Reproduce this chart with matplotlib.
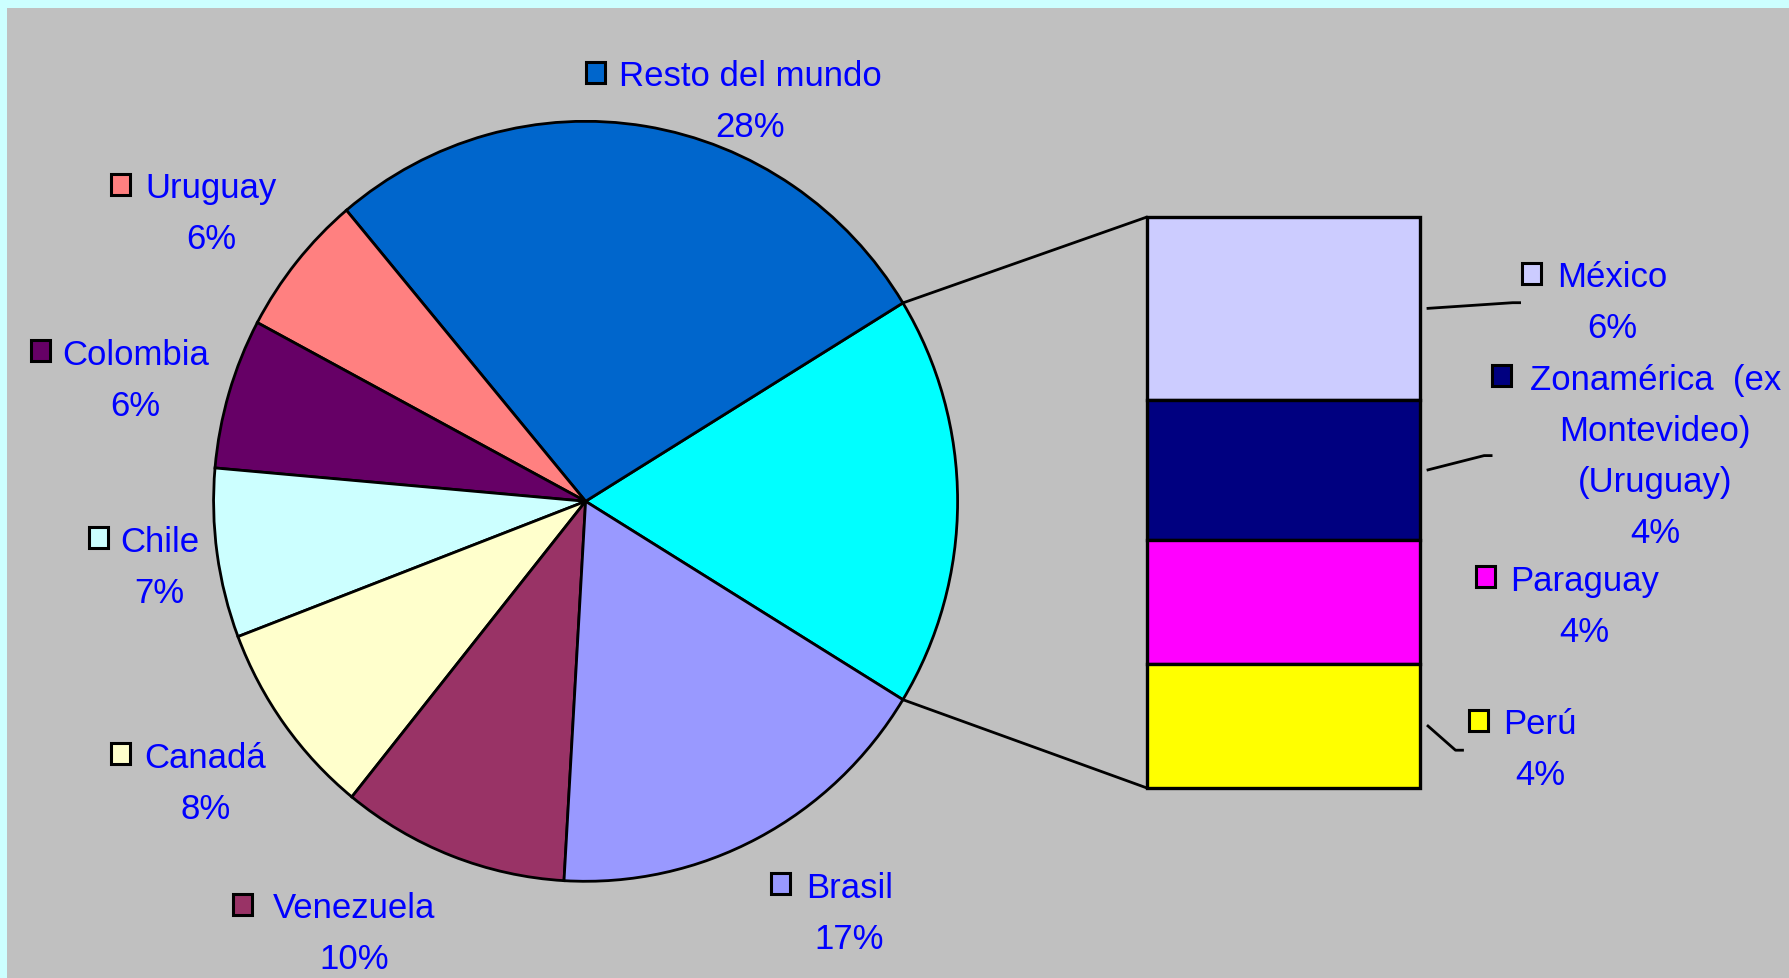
import matplotlib
matplotlib.use('Agg')
import matplotlib.pyplot as plt
from matplotlib.patches import Rectangle, ConnectionPatch
import numpy as np

W, H = 1790, 979

# pie slices, counter-clockwise starting with the grouped "other" slice
pie_names = ['Otros', 'Resto del mundo', 'Uruguay', 'Colombia', 'Chile', 'Canadá', 'Venezuela', 'Brasil']
pie_values = [17.5, 27.4, 6.1, 6.4, 7.2, 8.4, 9.9, 17.2]
pie_pcts = ['18%', '28%', '6%', '6%', '7%', '8%', '10%', '17%']
pie_colors = ['#00FFFF', '#0066CC', '#FF8080', '#660066', '#CCFFFF', '#FFFFCC', '#993366', '#9999FF']

# breakdown of the "other" slice, top to bottom
bar_names = ['México', 'Zonamérica  (ex\nMontevideo)\n(Uruguay)', 'Paraguay', 'Perú']
bar_values = [5.6, 4.3, 3.8, 3.8]
bar_pcts = ['6%', '4%', '4%', '4%']
bar_colors = ['#CCCCFF', '#000080', '#FF00FF', '#FFFF00']

# label layout in pixels (y measured from top): key left x, text centre x, first line y
pie_lbl_pos = [None, (585.6, 750, 73), (110.7, 211.2, 185), (30.8, 135.8, 351.6),
               (89, 159.8, 538.8), (110.7, 205.5, 754.6), (232.9, 353.9, 905.3),
               (770.6, 849.3, 884.7)]
bar_lbl_pos = [(1521.7, 1611.9, 274), (1492.1, 1655.3, 376.7),
               (1476.1, 1584.5, 577.6), (1469.2, 1540, 721.5)]
bar_leader_end = [(1512.6, 303.7), (1484.1, 456.6), None, (1455.5, 751.2)]

TXT = '#0000FF'
FS = 25
LS = 51
LW = 2.0

fig = plt.figure(figsize=(W / 100, H / 100), dpi=100, facecolor='#CCFFFF')
ax = fig.add_axes([0, 0, 1, 1])
ax.add_patch(Rectangle((7, 0), W - 7, H - 9, facecolor='#C0C0C0', edgecolor='none', zorder=0))
ax.set_xlim(0, W)
ax.set_ylim(0, H)
ax.axis('off')

# pie in its own axes (slightly taller than wide, as in the original)
pcx, pcy, rx, ry = 585.6, 502.3, 372, 380
ax_pie = fig.add_axes([(pcx - rx) / W, (H - pcy - ry) / H, 2 * rx / W, 2 * ry / H])
total = sum(pie_values)
half = 180 * pie_values[0] / total
wedges, _ = ax_pie.pie(pie_values, colors=pie_colors, startangle=-half, counterclock=True,
                       wedgeprops=dict(edgecolor='black', linewidth=LW, clip_on=False))
ax_pie.set_xlim(-1, 1)
ax_pie.set_ylim(-1, 1)
ax_pie.set_aspect('auto')
ax_pie.patch.set_alpha(0)
ax_pie.axis('off')

# bar of pie
ax_bar = fig.add_axes([1147 / W, (H - 789) / H, (1420 - 1147) / W, (789 - 218) / H])
ax_bar.patch.set_alpha(0)
other = sum(bar_values)
bottoms = other - np.cumsum(bar_values)
bars = ax_bar.bar(0, bar_values, bottom=bottoms, width=1, color=bar_colors,
                  edgecolor='black', linewidth=2.4, clip_on=False)
ax_bar.set_xlim(-0.5, 0.5)
ax_bar.set_ylim(0, other)
ax_bar.axis('off')

# lines joining pie slice to the bar
w0 = wedges[0]
for ang, ybar in [(w0.theta2, other), (w0.theta1, 0)]:
    p = (np.cos(np.radians(ang)), np.sin(np.radians(ang)))
    con = ConnectionPatch(xyA=p, coordsA=ax_pie.transData, xyB=(-0.5, ybar), coordsB=ax_bar.transData,
                          color='black', linewidth=LW)
    fig.add_artist(con)


def label(kx, tx, y, name, pct, color):
    ax.add_patch(Rectangle((kx, H - y - 10.5), 19, 21, facecolor=color,
                           edgecolor='black', linewidth=2.2, zorder=5))
    lines = name.split('\n') + [pct]
    for i, line in enumerate(lines):
        ax.text(tx, H - (y + i * LS) - 13, line, ha='center', va='baseline',
                fontsize=FS, color=TXT, family='Liberation Sans')


for i in range(1, len(pie_names)):
    kx, tx, y = pie_lbl_pos[i]
    label(kx, tx, y, pie_names[i], pie_pcts[i], pie_colors[i])

fig.canvas.draw()
for i, name in enumerate(bar_names):
    kx, tx, y = bar_lbl_pos[i]
    label(kx, tx, y, name, bar_pcts[i], bar_colors[i])
    if bar_leader_end[i] is not None:
        mid = bottoms[i] + bar_values[i] / 2
        sx, sy = ax.transData.inverted().transform(ax_bar.transData.transform((0.5, mid)))
        ex, ey = bar_leader_end[i]
        ax.plot([sx + 8, ex, ex + 7], [sy, H - ey, H - ey], color='black', linewidth=LW)

fig.savefig('out.png', dpi=100, facecolor=fig.get_facecolor())
